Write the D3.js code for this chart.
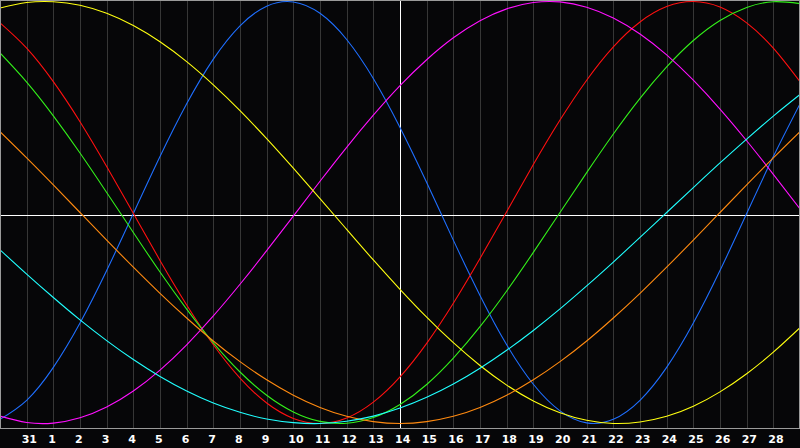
<!DOCTYPE html>
<html>
<head>
<meta charset="utf-8">
<script src="https://cdn.jsdelivr.net/npm/d3@7"></script>
<style>
  html, body { margin: 0; padding: 0; background: #000; }
  svg { display: block; }
</style>
</head>
<body>
<svg id="chart" width="800" height="448"></svg>
<script>
// ---- data (values in %, read at each day column, day offset -1 .. 29) ----
const dayLabels = ["31","1","2","3","4","5","6","7","8","9","10","11","12","13","14",
  "15","16","17","18","19","20","21","22","23","24","25","26","27","28"];
const todayIndex = 14;

const physical     = [-98.0,-89.0,-73.4,-52.4,-27.5,-0.5,26.5,51.5,72.7,88.5,97.8,99.8,94.4,82.0,63.5,40.3,14.2,-13.1,-39.3,-62.7,-81.4,-94.0,-99.7,-98.0,-89.0,-73.4,-52.4,-27.5,-0.5,26.5,51.5];
const emotional    = [89.9,77.9,62.0,43.0,21.8,-0.4,-22.7,-43.8,-62.7,-78.5,-90.3,-97.6,-100,-97.4,-89.9,-77.9,-62.0,-43.0,-21.8,0.4,22.7,43.8,62.7,78.5,90.3,97.6,100,97.4,89.9,77.9,62.0];
const intellectual = [75.6,61.8,45.8,28.2,9.5,-9.5,-28.2,-45.8,-61.8,-75.6,-86.6,-94.5,-99.0,-99.9,-97.2,-91.0,-81.5,-69.0,-54.1,-37.2,-18.9,0,18.9,37.2,54.1,69.0,81.5,91.0,97.2,99.9,99.0];
const intuitive    = [-96.5,-99.5,-99.8,-97.3,-92.2,-84.6,-74.7,-62.7,-49.0,-34.0,-18.1,-1.7,14.8,30.9,46.1,60.1,72.4,82.8,90.9,96.5,99.5,99.8,97.3,92.2,84.6,74.7,62.7,49.0,34.0,18.1,1.7];
const aesthetic    = [96.9,99.5,99.9,98.2,94.4,88.6,80.9,71.5,60.5,48.3,35.0,21.0,6.6,-8.0,-22.5,-36.4,-49.6,-61.7,-72.5,-81.8,-89.3,-94.9,-98.5,-100,-99.3,-96.6,-91.8,-85.0,-76.4,-66.2,-54.6];
const awareness    = [38.3,25.9,13.1,0,-13.1,-25.9,-38.3,-50.0,-60.9,-70.7,-79.3,-86.6,-92.4,-96.6,-99.1,-100,-99.1,-96.6,-92.4,-86.6,-79.3,-70.7,-60.9,-50.0,-38.3,-25.9,-13.1,0,13.1,25.9,38.3];
const spiritual    = [-17.7,-29.2,-40.3,-50.9,-60.7,-69.7,-77.7,-84.6,-90.3,-94.7,-97.9,-99.6,-100,-98.9,-96.5,-92.7,-87.6,-81.3,-73.8,-65.3,-55.9,-45.7,-34.8,-23.5,-11.8,0,11.8,23.5,34.8,45.7,55.9];

const series = [
  { name: "physical",     values: physical,     color: "#1f6fff" },
  { name: "emotional",    values: emotional,    color: "#ff1010" },
  { name: "intellectual", values: intellectual, color: "#33f01a" },
  { name: "intuitive",    values: intuitive,    color: "#ff10ff" },
  { name: "aesthetic",    values: aesthetic,    color: "#ffff10" },
  { name: "awareness",    values: awareness,    color: "#ff8a10" },
  { name: "spiritual",    values: spiritual,    color: "#20ffff" }
];

// ---- layout ----
const W = 800, plotBottom = 428;
const svg = d3.select("#chart");
const x = d3.scaleLinear().domain([-1, 29]).range([0, W]);
const y = d3.scaleLinear().domain([-100, 100]).range([423.5, 1.5]);

svg.append("rect").attr("width", W).attr("height", 448).attr("fill", "#060608");

// vertical day grid
svg.append("g").selectAll("line")
  .data(dayLabels.map((d, i) => i))
  .join("line")
  .attr("x1", i => Math.round(x(i)) + 0.5).attr("x2", i => Math.round(x(i)) + 0.5)
  .attr("y1", 0).attr("y2", plotBottom)
  .attr("stroke", "#363636").attr("stroke-width", 1)
  .attr("shape-rendering", "crispEdges");

// midline and today line
svg.append("line")
  .attr("x1", 0).attr("x2", W)
  .attr("y1", Math.round(y(0)) + 2.5).attr("y2", Math.round(y(0)) + 2.5)
  .attr("stroke", "#ffffff").attr("shape-rendering", "crispEdges");
svg.append("line")
  .attr("x1", Math.round(x(todayIndex)) + 0.5).attr("x2", Math.round(x(todayIndex)) + 0.5)
  .attr("y1", 0).attr("y2", plotBottom)
  .attr("stroke", "#ffffff").attr("shape-rendering", "crispEdges");

// curves
const line = d3.line()
  .x((d, k) => x(k - 1))
  .y(d => y(d))
  .curve(d3.curveNatural);

svg.append("g").selectAll("path")
  .data(series)
  .join("path")
  .attr("d", s => line(s.values))
  .attr("fill", "none")
  .attr("stroke", s => s.color)
  .attr("stroke-width", 1.1);

// frame
svg.append("path")
  .attr("d", `M0.5,${plotBottom + 0.5} V0.5 H${W - 0.5} V${plotBottom + 0.5} H0.5`)
  .attr("fill", "none").attr("stroke", "#9a9a9a")
  .attr("shape-rendering", "crispEdges");

// day labels via axis
const axis = d3.axisBottom(x)
  .tickValues(dayLabels.map((d, i) => i))
  .tickFormat(i => dayLabels[i])
  .tickSize(0).tickPadding(0);
const ag = svg.append("g").attr("transform", `translate(0,${plotBottom})`).call(axis);
ag.select(".domain").remove();
ag.selectAll("text")
  .attr("text-anchor", "start")
  .attr("dx", -5.5)
  .attr("y", 15)
  .attr("dy", 0)
  .attr("fill", "#ffffff")
  .style("font-family", "'DejaVu Sans', Verdana, sans-serif")
  .style("font-weight", "bold")
  .style("font-size", "11px");
</script>
</body>
</html>
